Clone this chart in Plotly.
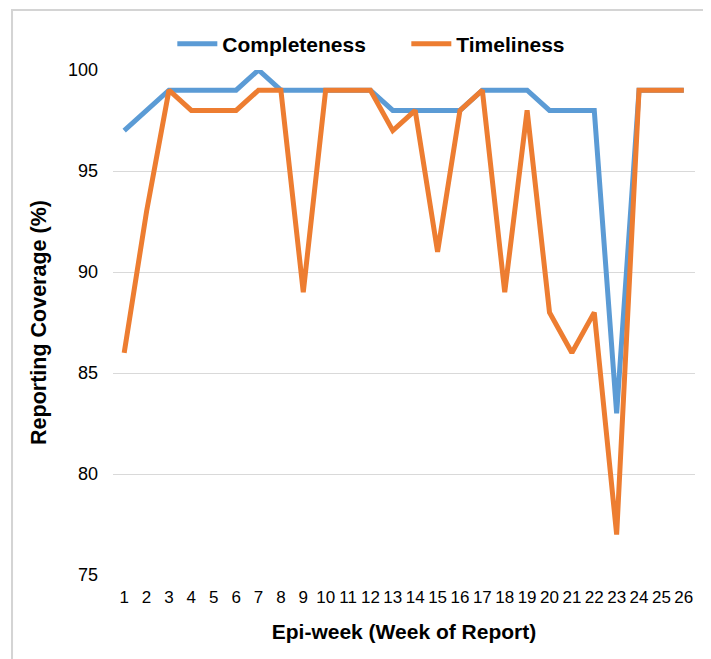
import plotly.graph_objects as go

weeks = [str(i) for i in range(1, 27)]
completeness = [97, 98, 99, 99, 99, 99, 100, 99, 99, 99, 99, 99, 98, 98, 98, 98, 99, 99, 99, 98, 98, 98, 83, 99, 99, 99]
timeliness = [86, 93, 99, 98, 98, 98, 99, 99, 89, 99, 99, 99, 97, 98, 91, 98, 99, 89, 98, 88, 86, 88, 77, 99, 99, 99]
y_ticks = [75, 80, 85, 90, 95, 100]

FONT = "Liberation Sans, Arial, sans-serif"

fig = go.Figure()
fig.add_trace(go.Scatter(x=weeks, y=completeness, mode="lines", name="Completeness",
                         line=dict(color="#5B9BD5", width=5)))
fig.add_trace(go.Scatter(x=weeks, y=timeliness, mode="lines", name="Timeliness",
                         line=dict(color="#ED7D31", width=5)))

fig.update_layout(
    width=703, height=651,
    margin=dict(l=105, r=16, t=62, b=84, autoexpand=False),
    paper_bgcolor="white", plot_bgcolor="white",
    font=dict(family=FONT, color="black"),
    showlegend=True,
    legend=dict(orientation="h", x=0.504, xanchor="center", y=1.0515, yanchor="middle",
                font=dict(size=21, family=FONT, weight="bold"), itemwidth=40,
                entrywidth=179, traceorder="normal"),
    xaxis=dict(type="category", range=[-0.5, 25.5], showgrid=False, zeroline=False, showline=False,
               tickfont=dict(size=17), ticks="", ticklabelstandoff=10,
               title=dict(text="<b>Epi-week (Week of Report)</b>", font=dict(size=21), standoff=18)),
    yaxis=dict(range=[75, 100], tickvals=y_ticks, showgrid=True, gridcolor="#D9D9D9", gridwidth=1.3,
               zeroline=False, showline=False, tickfont=dict(size=18), ticks="", ticklabelstandoff=14,
               title=dict(text="<b>Reporting Coverage (%)</b>", font=dict(size=21.5), standoff=15)),
    shapes=[dict(type="rect", xref="paper", yref="paper", x0=-0.1735, x1=1.019, y0=-0.2, y1=1.119,
                 line=dict(color="#D4D4D4", width=2), fillcolor="rgba(0,0,0,0)", layer="below")],
)

fig.write_html("out.html")
